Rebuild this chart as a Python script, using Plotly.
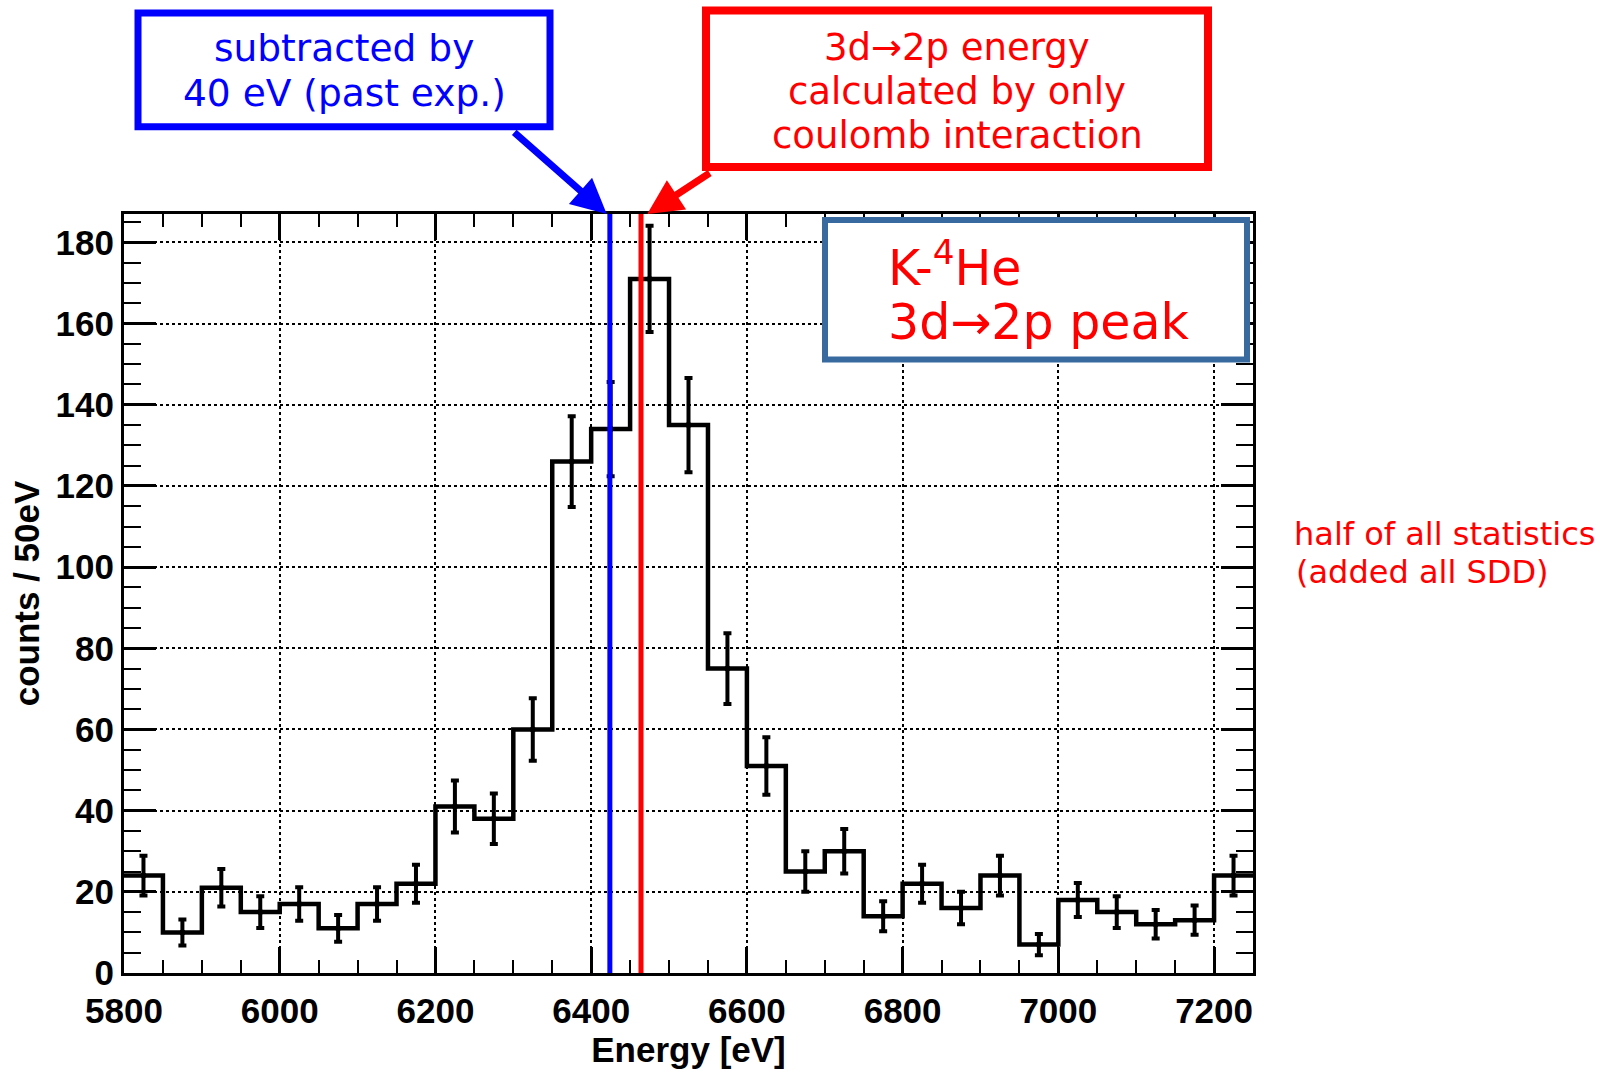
import plotly.graph_objects as go

# K- 4He 3d->2p X-ray spectrum, 50 eV bins
bin_low_edges = [5800, 5850, 5900, 5950, 6000, 6050, 6100, 6150, 6200, 6250,
                 6300, 6350, 6400, 6450, 6500, 6550, 6600, 6650, 6700, 6750,
                 6800, 6850, 6900, 6950, 7000, 7050, 7100, 7150, 7200]
bin_width = 50
counts = [24, 10, 21, 15, 17, 11, 17, 22, 41, 38,
          60, 126, 134, 171, 135, 75, 51, 25, 30, 14,
          22, 16, 24, 7, 18, 15, 12, 13, 24]
count_errors = [4.9, 3.2, 4.6, 3.9, 4.1, 3.3, 4.1, 4.7, 6.4, 6.2,
                7.7, 11.2, 11.6, 13.1, 11.6, 8.7, 7.1, 5.0, 5.5, 3.7,
                4.7, 4.0, 4.9, 2.6, 4.2, 3.9, 3.5, 3.6, 4.9]

# reference energies [eV]
e_coulomb = 6464            # 3d->2p, coulomb interaction only
e_shifted = e_coulomb - 40  # shifted by 40 eV (past experiment)

x_range = [5800, 7250]
y_range = [0, 187]
x_ticks = [5800, 6000, 6200, 6400, 6600, 6800, 7000, 7200]
y_ticks = [0, 20, 40, 60, 80, 100, 120, 140, 160, 180]

W, H = 1616, 1076
L, R, T, B = 124, 363, 214, 101
PW, PH = W - L - R, H - T - B


def px(x):
    return (x - L) / PW


def py(y):
    return (H - B - y) / PH


edges = bin_low_edges + [bin_low_edges[-1] + bin_width]
step_y = counts + [counts[-1]]
centers = [e + bin_width / 2 for e in bin_low_edges]

fig = go.Figure()

# histogram outline
fig.add_trace(go.Scatter(
    x=edges, y=step_y, mode="lines", line=dict(color="black", width=4.5, shape="hv"),
    hoverinfo="skip", showlegend=False))

# statistical error bars
fig.add_trace(go.Scatter(
    x=centers, y=counts, mode="markers", marker=dict(size=0, color="black"),
    error_y=dict(type="data", array=count_errors, visible=True, color="black",
                 thickness=4, width=4),
    showlegend=False))

# reference energy lines
fig.add_trace(go.Scatter(x=[e_shifted, e_shifted], y=y_range, mode="lines",
                         line=dict(color="#0000ff", width=5), showlegend=False))
fig.add_trace(go.Scatter(x=[e_coulomb, e_coulomb], y=y_range, mode="lines",
                         line=dict(color="#ff0000", width=5), showlegend=False))

tick_font = dict(family="Liberation Sans", size=35, color="black", weight="bold")

fig.update_xaxes(
    range=x_range, tickvals=x_ticks, ticks="inside", ticklen=26, tickwidth=3,
    tickcolor="black", showline=True, linecolor="black", linewidth=3,
    mirror="ticks", showgrid=True, gridcolor="black", gridwidth=2,
    griddash="3px,3px", zeroline=False, tickfont=tick_font, ticklabelstandoff=5,
    minor=dict(dtick=bin_width, tick0=5800, ticks="inside", ticklen=13,
               tickwidth=2, tickcolor="black", showgrid=False),
    title=dict(text="Energy [eV]", standoff=9,
               font=dict(family="Liberation Sans", size=35, color="black", weight="bold")),
)
fig.update_yaxes(
    range=y_range, tickvals=y_ticks, ticks="inside", ticklen=32, tickwidth=3,
    tickcolor="black", showline=True, linecolor="black", linewidth=3,
    mirror="ticks", showgrid=True, gridcolor="black", gridwidth=2,
    griddash="3px,3px", zeroline=False, tickfont=tick_font,
    minor=dict(dtick=5, tick0=0, ticks="inside", ticklen=17,
               tickwidth=2, tickcolor="black", showgrid=False),
    title=dict(text="counts / 50eV", standoff=6,
               font=dict(family="Liberation Sans", size=35, color="black", weight="bold")),
)

shapes = []
annotations = []

# "subtracted by 40 eV" box
shapes.append(dict(type="rect", xref="paper", yref="paper", layer="above",
                   x0=px(138), x1=px(550), y0=py(126.5), y1=py(12.5),
                   line=dict(color="#0000ff", width=7), fillcolor="white"))
blue_font = dict(family="DejaVu Sans", size=37.5, color="#0000ff")
for text, yc in [("subtracted by", 48), ("40 eV (past exp.)", 93)]:
    annotations.append(dict(xref="paper", yref="paper", x=px(344), y=py(yc),
                            text=text, showarrow=False, font=blue_font,
                            xanchor="center", yanchor="middle"))

# coulomb-only energy box
shapes.append(dict(type="rect", xref="paper", yref="paper", layer="above",
                   x0=px(706), x1=px(1208), y0=py(167), y1=py(10),
                   line=dict(color="#ff0000", width=8), fillcolor="white"))
red_font = dict(family="DejaVu Sans", size=37, color="#ff0000")
for text, yc in [("3d→2p energy", 47), ("calculated by only", 91),
                 ("coulomb interaction", 135)]:
    annotations.append(dict(xref="paper", yref="paper", x=px(957), y=py(yc),
                            text=text, showarrow=False, font=red_font,
                            xanchor="center", yanchor="middle"))

# peak label box
shapes.append(dict(type="rect", xref="paper", yref="paper", layer="above",
                   x0=px(825), x1=px(1247), y0=py(360), y1=py(220),
                   line=dict(color="#386aa0", width=6), fillcolor="white"))
peak_font = dict(family="DejaVu Sans", size=49, color="#ff0000")
for text, yc in [("K-<sup>4</sup>He", 265), ("3d→2p peak", 323)]:
    annotations.append(dict(xref="paper", yref="paper", x=px(886), y=py(yc),
                            text=text, showarrow=False, font=peak_font,
                            xanchor="left", yanchor="middle"))

# arrows from the boxes to the energy lines
annotations.append(dict(xref="x", yref="y", x=e_shifted - 4, y=y_range[1], text="",
                        showarrow=True, axref="pixel", ayref="pixel", ax=-94, ay=-83,
                        arrowhead=2, arrowsize=1.0, arrowwidth=7,
                        arrowcolor="#0000ff", standoff=0))
annotations.append(dict(xref="x", yref="y", x=e_coulomb + 8, y=y_range[1], text="",
                        showarrow=True, axref="pixel", ayref="pixel", ax=64, ay=-42,
                        arrowhead=2, arrowsize=1.0, arrowwidth=7,
                        arrowcolor="#ff0000", standoff=0))

# side note
side_font = dict(family="DejaVu Sans", size=32, color="#ff0000")
for text, xl, yc in [("half of all statistics", 1292, 535),
                     ("(added all SDD)", 1294, 573)]:
    annotations.append(dict(xref="paper", yref="paper", x=px(xl), y=py(yc),
                            text=text, showarrow=False, font=side_font,
                            xanchor="left", yanchor="middle"))

fig.update_layout(
    width=W, height=H, autosize=False,
    margin=dict(l=L, r=R, t=T, b=B, pad=0),
    paper_bgcolor="white", plot_bgcolor="white",
    showlegend=False, shapes=shapes, annotations=annotations,
)

fig.write_html("out.html")
